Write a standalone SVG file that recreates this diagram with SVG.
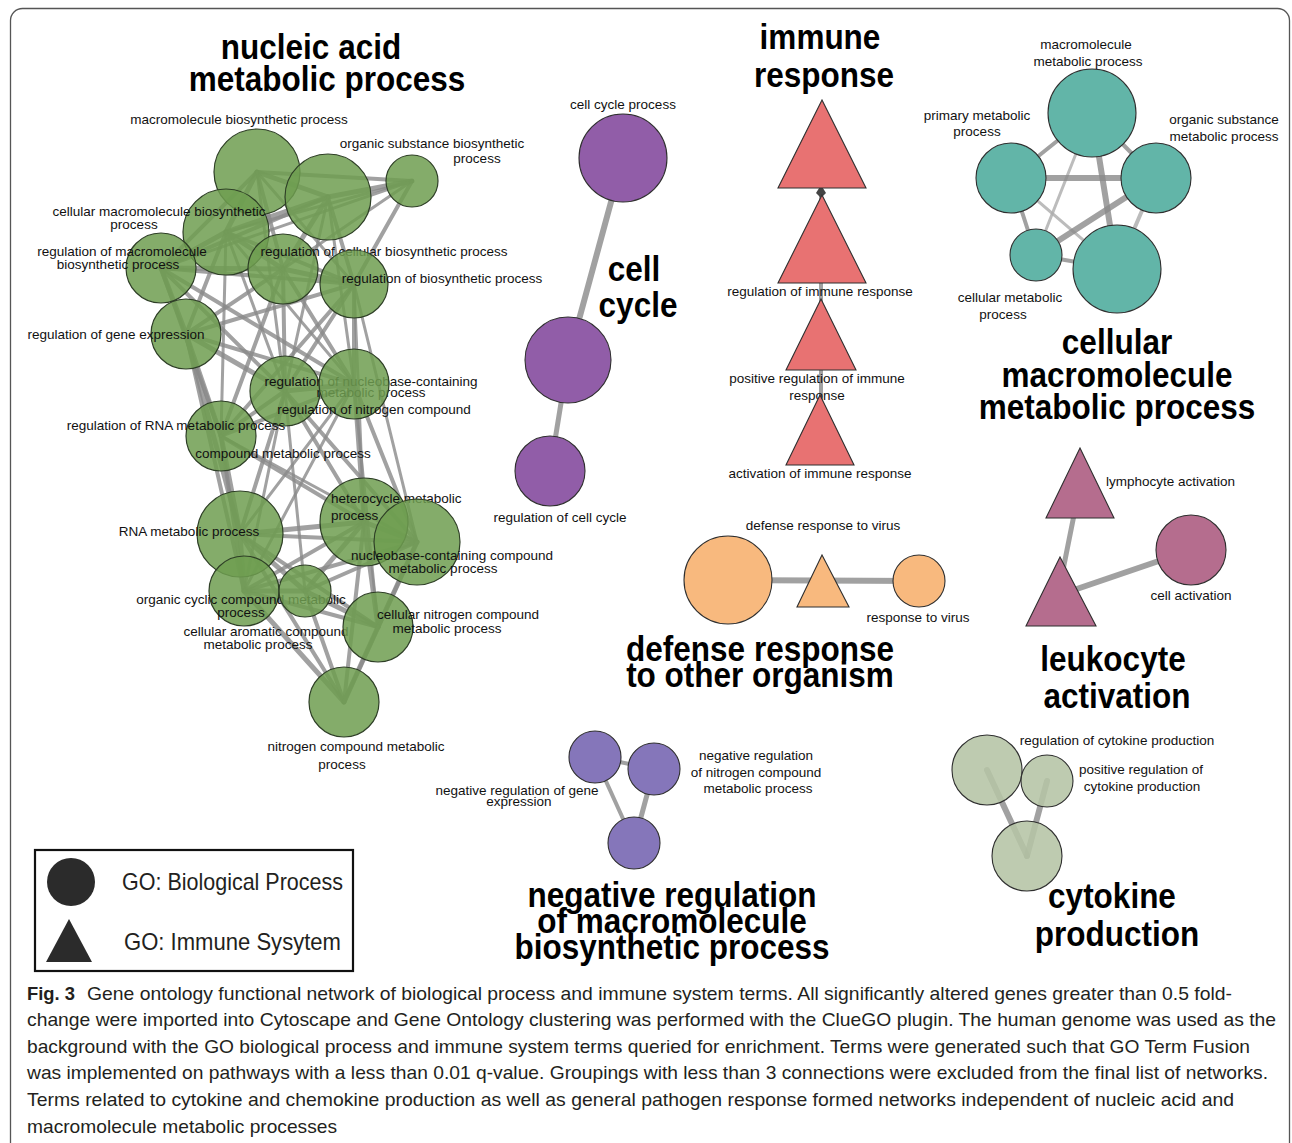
<svg xmlns="http://www.w3.org/2000/svg" width="1292" height="1143" viewBox="0 0 1292 1143">
<style>
.lbl{font-family:"Liberation Sans",Arial,sans-serif;font-size:13.5px;fill:#111}
.m{text-anchor:middle}
.ttl{font-family:"Liberation Sans",Arial,sans-serif;font-size:31.5px;font-weight:bold;fill:#000;text-anchor:middle}
.e{stroke:#8a8a8a;stroke-opacity:.8;fill:none;stroke-linecap:round}
.lt{stroke:#ababab}
.w3{stroke-width:3}.w4{stroke-width:4}.w5{stroke-width:5}.w6{stroke-width:6}
.nd{stroke:#2f2f2f;stroke-width:1.1}
.gn{fill:#6e9e50;fill-opacity:.85;stroke:#2e3f26;stroke-width:1.2}
.pu{fill:#915da8}
.rd{fill:#e87272}
.tl{fill:#62b5a8}
.or{fill:#f8b97e}
.mv{fill:#b56d8e}
.bl{fill:#8576ba}
.sg{fill:#b5c4a5;fill-opacity:.88}
.cap{font-family:"Liberation Sans",Arial,sans-serif;font-size:19px;fill:#231f20}
.leg{font-family:"Liberation Sans",Arial,sans-serif;font-size:24px;fill:#231f20}
</style>
<rect x="10.5" y="8.5" width="1279" height="1200" rx="12" fill="none" stroke="#555" stroke-width="1.3"/>

<g id="connectors">
<line class="e w5" x1="257" y1="172" x2="328" y2="197"/>
<line class="e w4" x1="257" y1="172" x2="412" y2="181"/>
<line class="e w5" x1="257" y1="172" x2="226" y2="232"/>
<line class="e w4" x1="257" y1="172" x2="161" y2="268"/>
<line class="e w4" x1="257" y1="172" x2="283" y2="269"/>
<line class="e w3" x1="257" y1="172" x2="354" y2="284"/>
<line class="e w5" x1="328" y1="197" x2="412" y2="181"/>
<line class="e w5" x1="328" y1="197" x2="226" y2="232"/>
<line class="e w4" x1="328" y1="197" x2="161" y2="268"/>
<line class="e w5" x1="328" y1="197" x2="283" y2="269"/>
<line class="e w4" x1="328" y1="197" x2="354" y2="284"/>
<line class="e w3" x1="412" y1="181" x2="226" y2="232"/>
<line class="e w3" x1="412" y1="181" x2="283" y2="269"/>
<line class="e w4" x1="412" y1="181" x2="354" y2="284"/>
<line class="e w3" x1="412" y1="181" x2="161" y2="268"/>
<line class="e w5" x1="226" y1="232" x2="161" y2="268"/>
<line class="e w5" x1="226" y1="232" x2="283" y2="269"/>
<line class="e w4" x1="226" y1="232" x2="354" y2="284"/>
<line class="e w4" x1="226" y1="232" x2="186" y2="334"/>
<line class="e w5" x1="161" y1="268" x2="283" y2="269"/>
<line class="e w4" x1="161" y1="268" x2="354" y2="284"/>
<line class="e w5" x1="161" y1="268" x2="186" y2="334"/>
<line class="e w4" x1="161" y1="268" x2="285" y2="391"/>
<line class="e w4" x1="161" y1="268" x2="354" y2="384"/>
<line class="e w4" x1="161" y1="268" x2="221" y2="436"/>
<line class="e w5" x1="283" y1="269" x2="354" y2="284"/>
<line class="e w4" x1="283" y1="269" x2="186" y2="334"/>
<line class="e w4" x1="283" y1="269" x2="285" y2="391"/>
<line class="e w4" x1="283" y1="269" x2="354" y2="384"/>
<line class="e w4" x1="283" y1="269" x2="221" y2="436"/>
<line class="e w4" x1="354" y1="284" x2="186" y2="334"/>
<line class="e w4" x1="354" y1="284" x2="285" y2="391"/>
<line class="e w4" x1="354" y1="284" x2="354" y2="384"/>
<line class="e w4" x1="354" y1="284" x2="221" y2="436"/>
<line class="e w5" x1="186" y1="334" x2="285" y2="391"/>
<line class="e w4" x1="186" y1="334" x2="354" y2="384"/>
<line class="e w5" x1="186" y1="334" x2="221" y2="436"/>
<line class="e w5" x1="186" y1="334" x2="240" y2="534"/>
<line class="e w5" x1="285" y1="391" x2="354" y2="384"/>
<line class="e w4" x1="285" y1="391" x2="221" y2="436"/>
<line class="e w4" x1="354" y1="384" x2="221" y2="436"/>
<line class="e w3" x1="226" y1="232" x2="285" y2="391"/>
<line class="e w3" x1="226" y1="232" x2="354" y2="384"/>
<line class="e w3" x1="226" y1="232" x2="221" y2="436"/>
<line class="e w3" x1="257" y1="172" x2="285" y2="391"/>
<line class="e w3" x1="328" y1="197" x2="354" y2="384"/>
<line class="e w3" x1="328" y1="197" x2="285" y2="391"/>
<line class="e w5" x1="221" y1="436" x2="240" y2="534"/>
<line class="e w4" x1="221" y1="436" x2="364" y2="522"/>
<line class="e w3" x1="221" y1="436" x2="417" y2="542"/>
<line class="e w4" x1="221" y1="436" x2="244" y2="591"/>
<line class="e w4" x1="285" y1="391" x2="240" y2="534"/>
<line class="e w4" x1="285" y1="391" x2="364" y2="522"/>
<line class="e w4" x1="285" y1="391" x2="417" y2="542"/>
<line class="e w4" x1="354" y1="384" x2="364" y2="522"/>
<line class="e w4" x1="354" y1="384" x2="417" y2="542"/>
<line class="e w3" x1="354" y1="384" x2="240" y2="534"/>
<line class="e w3" x1="354" y1="384" x2="378" y2="627"/>
<line class="e w4" x1="186" y1="334" x2="244" y2="591"/>
<line class="e w3" x1="354" y1="284" x2="364" y2="522"/>
<line class="e w3" x1="354" y1="284" x2="417" y2="542"/>
<line class="e w3" x1="285" y1="391" x2="244" y2="591"/>
<line class="e w3" x1="354" y1="384" x2="244" y2="591"/>
<line class="e w3" x1="285" y1="391" x2="305" y2="591"/>
<line class="e w5" x1="240" y1="534" x2="364" y2="522"/>
<line class="e w4" x1="240" y1="534" x2="417" y2="542"/>
<line class="e w5" x1="240" y1="534" x2="244" y2="591"/>
<line class="e w5" x1="240" y1="534" x2="305" y2="591"/>
<line class="e w4" x1="240" y1="534" x2="378" y2="627"/>
<line class="e w4" x1="240" y1="534" x2="344" y2="702"/>
<line class="e w5" x1="364" y1="522" x2="417" y2="542"/>
<line class="e w4" x1="364" y1="522" x2="244" y2="591"/>
<line class="e w5" x1="364" y1="522" x2="305" y2="591"/>
<line class="e w5" x1="364" y1="522" x2="378" y2="627"/>
<line class="e w4" x1="364" y1="522" x2="344" y2="702"/>
<line class="e w4" x1="417" y1="542" x2="244" y2="591"/>
<line class="e w4" x1="417" y1="542" x2="305" y2="591"/>
<line class="e w5" x1="417" y1="542" x2="378" y2="627"/>
<line class="e w4" x1="417" y1="542" x2="344" y2="702"/>
<line class="e w5" x1="244" y1="591" x2="305" y2="591"/>
<line class="e w4" x1="244" y1="591" x2="378" y2="627"/>
<line class="e w5" x1="244" y1="591" x2="344" y2="702"/>
<line class="e w5" x1="305" y1="591" x2="378" y2="627"/>
<line class="e w4" x1="305" y1="591" x2="344" y2="702"/>
<line class="e w5" x1="378" y1="627" x2="344" y2="702"/>

<line class="e w6" x1="623" y1="158" x2="568" y2="360"/>
<line class="e w5" x1="568" y1="360" x2="550" y2="471"/>

<line class="e w4" x1="821" y1="188" x2="821" y2="440"/>
<polygon points="821,185 826,193 821,198 816,193" fill="#444"/>

<line class="e w4" x1="1092" y1="113" x2="1011" y2="178"/>
<line class="e w4" x1="1092" y1="113" x2="1156" y2="178"/>
<line class="e lt w3" x1="1092" y1="113" x2="1036" y2="255"/>
<line class="e w6" x1="1092" y1="113" x2="1117" y2="269"/>
<line class="e w6" x1="1011" y1="178" x2="1156" y2="178"/>
<line class="e w4" x1="1011" y1="178" x2="1036" y2="255"/>
<line class="e lt w3" x1="1011" y1="178" x2="1117" y2="269"/>
<line class="e w6" x1="1156" y1="178" x2="1036" y2="255"/>
<line class="e lt w4" x1="1156" y1="178" x2="1117" y2="269"/>
<line class="e w4" x1="1036" y1="255" x2="1117" y2="269"/>

<line class="e w6" x1="728" y1="580" x2="919" y2="581"/>

<line class="e w5" x1="1076" y1="505" x2="1062" y2="575"/>
<line class="e w6" x1="1068" y1="592" x2="1191" y2="550"/>

<line class="e w4" x1="595" y1="757" x2="654" y2="769"/>
<line class="e w4" x1="595" y1="757" x2="634" y2="843"/>
<line class="e w5" x1="654" y1="769" x2="634" y2="843"/>

<line class="e w6" x1="987" y1="770" x2="1027" y2="856"/>
<line class="e w6" x1="1047" y1="781" x2="1027" y2="856"/>
</g>

<g id="nucleic-acid-cluster">
<g id="n-macro-biosynth"><circle class="gn" cx="257" cy="172" r="43"/><text class="lbl m" x="239" y="124">macromolecule biosynthetic process</text></g>
<g id="n-org-biosynth-big"><circle class="gn" cx="328" cy="197" r="43"/></g>
<g id="n-org-biosynth"><circle class="gn" cx="412" cy="181" r="26"/><text class="lbl m" x="432" y="148">organic substance biosynthetic</text><text class="lbl m" x="477" y="163">process</text></g>
<g id="n-cell-macro-biosynth"><circle class="gn" cx="226" cy="232" r="43"/><text class="lbl m" x="159" y="216">cellular macromolecule biosynthetic</text><text class="lbl m" x="134" y="229">process</text></g>
<g id="n-reg-macro-biosynth"><circle class="gn" cx="161" cy="268" r="35"/><text class="lbl m" x="122" y="256">regulation of macromolecule</text><text class="lbl m" x="118" y="269">biosynthetic process</text></g>
<g id="n-reg-cell-biosynth"><circle class="gn" cx="283" cy="269" r="35"/><text class="lbl m" x="384" y="256">regulation of cellular biosynthetic process</text></g>
<g id="n-reg-biosynth"><circle class="gn" cx="354" cy="284" r="34"/><text class="lbl m" x="442" y="283">regulation of biosynthetic process</text></g>
<g id="n-reg-gene-expr"><circle class="gn" cx="186" cy="334" r="35"/><text class="lbl m" x="116" y="339">regulation of gene expression</text></g>
<g id="n-reg-nucleobase"><circle class="gn" cx="285" cy="391" r="35"/><text class="lbl m" x="371" y="386">regulation of nucleobase-containing</text><text class="lbl m" x="371" y="397">metabolic process</text></g>
<g id="n-reg-nitrogen"><circle class="gn" cx="354" cy="384" r="35"/><text class="lbl m" x="374" y="414">regulation of nitrogen compound</text></g>
<g id="n-reg-rna"><circle class="gn" cx="221" cy="436" r="35"/><text class="lbl m" x="176" y="430">regulation of RNA metabolic process</text><text class="lbl m" x="283" y="458">compound metabolic process</text></g>
<g id="n-rna-metab"><circle class="gn" cx="240" cy="534" r="43"/><text class="lbl m" x="189" y="536">RNA metabolic process</text></g>
<g id="n-heterocycle"><circle class="gn" cx="364" cy="522" r="44"/><text class="lbl" x="331" y="503">heterocycle metabolic</text><text class="lbl" x="331" y="520">process</text></g>
<g id="n-nucleobase-compound"><circle class="gn" cx="417" cy="542" r="43"/><text class="lbl m" x="452" y="560">nucleobase-containing compound</text><text class="lbl m" x="443" y="573">metabolic process</text></g>
<g id="n-org-cyclic"><circle class="gn" cx="244" cy="591" r="35"/><text class="lbl m" x="241" y="604">organic cyclic compound metabolic</text><text class="lbl m" x="241" y="617">process</text></g>
<g id="n-cell-aromatic"><circle class="gn" cx="305" cy="591" r="26"/><text class="lbl m" x="266" y="636">cellular aromatic compound</text><text class="lbl m" x="258" y="649">metabolic process</text></g>
<g id="n-cell-nitrogen"><circle class="gn" cx="378" cy="627" r="35"/><text class="lbl m" x="458" y="619">cellular nitrogen compound</text><text class="lbl m" x="447" y="633">metabolic process</text></g>
<g id="n-nitrogen-metab"><circle class="gn" cx="344" cy="702" r="35"/><text class="lbl m" x="356" y="751">nitrogen compound metabolic</text><text class="lbl m" x="342" y="769">process</text></g>
<g id="t-nucleic"><text class="ttl" transform="translate(311,59) scale(1,1.1)">nucleic acid</text><text class="ttl" transform="translate(327,91) scale(1,1.1)">metabolic process</text></g>
</g>

<g id="cell-cycle-cluster">
<g id="n-cell-cycle-process"><circle class="nd pu" cx="623" cy="158" r="44"/><text class="lbl m" x="623" y="109">cell cycle process</text></g>
<g id="n-cell-cycle"><circle class="nd pu" cx="568" cy="360" r="43"/></g>
<g id="n-reg-cell-cycle"><circle class="nd pu" cx="550" cy="471" r="35"/><text class="lbl m" x="560" y="522">regulation of cell cycle</text></g>
<g id="t-cell-cycle"><text class="ttl" transform="translate(634,281) scale(1,1.1)">cell</text><text class="ttl" transform="translate(638,317) scale(1,1.1)">cycle</text></g>
</g>

<g id="immune-cluster">
<g id="n-immune-response"><polygon class="nd rd" points="822,100 778,188 866,188"/></g>
<g id="n-reg-immune"><polygon class="nd rd" points="822,195 778,283 866,283"/><text class="lbl m" x="820" y="296">regulation of immune response</text></g>
<g id="n-pos-reg-immune"><polygon class="nd rd" points="821,299 786,370 856,370"/><text class="lbl m" x="817" y="383">positive regulation of immune</text><text class="lbl m" x="817" y="400">response</text></g>
<g id="n-act-immune"><polygon class="nd rd" points="820,395 786,465 854,465"/><text class="lbl m" x="820" y="478">activation of immune response</text></g>
<g id="t-immune"><text class="ttl" transform="translate(820,49) scale(1,1.1)">immune</text><text class="ttl" transform="translate(824,87) scale(1,1.1)">response</text></g>
</g>

<g id="cellular-macro-cluster">
<g id="n-macro-metab"><circle class="nd tl" cx="1092" cy="113" r="44"/><text class="lbl m" x="1086" y="49">macromolecule</text><text class="lbl m" x="1088" y="66">metabolic process</text></g>
<g id="n-primary-metab"><circle class="nd tl" cx="1011" cy="178" r="35"/><text class="lbl m" x="977" y="120">primary metabolic</text><text class="lbl m" x="977" y="136">process</text></g>
<g id="n-org-sub-metab"><circle class="nd tl" cx="1156" cy="178" r="35"/><text class="lbl m" x="1224" y="124">organic substance</text><text class="lbl m" x="1224" y="141">metabolic process</text></g>
<g id="n-cell-metab"><circle class="nd tl" cx="1036" cy="255" r="26"/><text class="lbl m" x="1010" y="302">cellular metabolic</text><text class="lbl m" x="1003" y="319">process</text></g>
<g id="n-cell-macro-metab"><circle class="nd tl" cx="1117" cy="269" r="44"/></g>
<g id="t-cell-macro"><text class="ttl" transform="translate(1117,354) scale(1,1.1)">cellular</text><text class="ttl" transform="translate(1117,387) scale(1,1.1)">macromolecule</text><text class="ttl" transform="translate(1117,419) scale(1,1.1)">metabolic process</text></g>
</g>

<g id="defense-cluster">
<g id="n-defense-big"><circle class="nd or" cx="728" cy="580" r="44"/></g>
<g id="n-defense-virus"><polygon class="nd or" points="822,555 797,607 849,607"/><text class="lbl m" x="823" y="530">defense response to virus</text></g>
<g id="n-response-virus"><circle class="nd or" cx="919" cy="581" r="26"/><text class="lbl m" x="918" y="622">response to virus</text></g>
<g id="t-defense"><text class="ttl" transform="translate(760,661) scale(1,1.1)">defense response</text><text class="ttl" transform="translate(760,687) scale(1,1.1)">to other organism</text></g>
</g>

<g id="leukocyte-cluster">
<g id="n-lymphocyte"><polygon class="nd mv" points="1080,448 1046,518 1114,518"/><text class="lbl" x="1106" y="486">lymphocyte activation</text></g>
<g id="n-leukocyte"><polygon class="nd mv" points="1060,557 1026,626 1096,626"/></g>
<g id="n-cell-activation"><circle class="nd mv" cx="1191" cy="550" r="35"/><text class="lbl m" x="1191" y="600">cell activation</text></g>
<g id="t-leukocyte"><text class="ttl" transform="translate(1113,671) scale(1,1.1)">leukocyte</text><text class="ttl" transform="translate(1117,708) scale(1,1.1)">activation</text></g>
</g>

<g id="neg-reg-cluster">
<g id="n-neg-reg-gene"><circle class="nd bl" cx="595" cy="757" r="26"/><text class="lbl m" x="517" y="795">negative regulation of gene</text><text class="lbl m" x="519" y="806">expression</text></g>
<g id="n-neg-reg-nitrogen"><circle class="nd bl" cx="654" cy="769" r="26"/><text class="lbl m" x="756" y="760">negative regulation</text><text class="lbl m" x="756" y="777">of nitrogen compound</text><text class="lbl m" x="758" y="793">metabolic process</text></g>
<g id="n-neg-reg-macro"><circle class="nd bl" cx="634" cy="843" r="26"/></g>
<g id="t-neg-reg"><text class="ttl" transform="translate(672,907) scale(1,1.1)">negative regulation</text><text class="ttl" transform="translate(672,933) scale(1,1.1)">of macromolecule</text><text class="ttl" transform="translate(672,959) scale(1,1.1)">biosynthetic process</text></g>
</g>

<g id="cytokine-cluster">
<g id="n-reg-cytokine"><circle class="nd sg" cx="987" cy="770" r="35"/><text class="lbl m" x="1117" y="745">regulation of cytokine production</text></g>
<g id="n-pos-reg-cytokine"><circle class="nd sg" cx="1047" cy="781" r="26"/><text class="lbl m" x="1141" y="774">positive regulation of</text><text class="lbl m" x="1142" y="791">cytokine production</text></g>
<g id="n-cytokine"><circle class="nd sg" cx="1027" cy="856" r="35"/></g>
<g id="t-cytokine"><text class="ttl" transform="translate(1112,908) scale(1,1.1)">cytokine</text><text class="ttl" transform="translate(1117,946) scale(1,1.1)">production</text></g>
</g>

<g id="legend">
<rect x="35" y="850" width="318" height="121" fill="#fff" stroke="#111" stroke-width="2.2"/>
<circle cx="71" cy="882" r="24" fill="#2b2b2b"/>
<polygon points="69,919 46,962 92,962" fill="#2b2b2b"/>
<text class="leg" x="122" y="890" textLength="221" lengthAdjust="spacingAndGlyphs">GO: Biological Process</text>
<text class="leg" x="124" y="950" textLength="217" lengthAdjust="spacingAndGlyphs">GO: Immune Sysytem</text>
</g>

<g id="caption">
<text class="cap" x="27" y="1000" font-weight="bold" textLength="48" lengthAdjust="spacingAndGlyphs">Fig. 3</text>
<text class="cap" x="87" y="1000" textLength="1145" lengthAdjust="spacingAndGlyphs">Gene ontology functional network of biological process and immune system terms. All significantly altered genes greater than 0.5 fold-</text>
<text class="cap" x="27" y="1026" textLength="1249" lengthAdjust="spacingAndGlyphs">change were imported into Cytoscape and Gene Ontology clustering was performed with the ClueGO plugin. The human genome was used as the</text>
<text class="cap" x="27" y="1053" textLength="1223" lengthAdjust="spacingAndGlyphs">background with the GO biological process and immune system terms queried for enrichment. Terms were generated such that GO Term Fusion</text>
<text class="cap" x="27" y="1079" textLength="1241" lengthAdjust="spacingAndGlyphs">was implemented on pathways with a less than 0.01 q-value. Groupings with less than 3 connections were excluded from the final list of networks.</text>
<text class="cap" x="27" y="1106" textLength="1207" lengthAdjust="spacingAndGlyphs">Terms related to cytokine and chemokine production as well as general pathogen response formed networks independent of nucleic acid and</text>
<text class="cap" x="27" y="1133" textLength="310" lengthAdjust="spacingAndGlyphs">macromolecule metabolic processes</text>
</g>
</svg>
